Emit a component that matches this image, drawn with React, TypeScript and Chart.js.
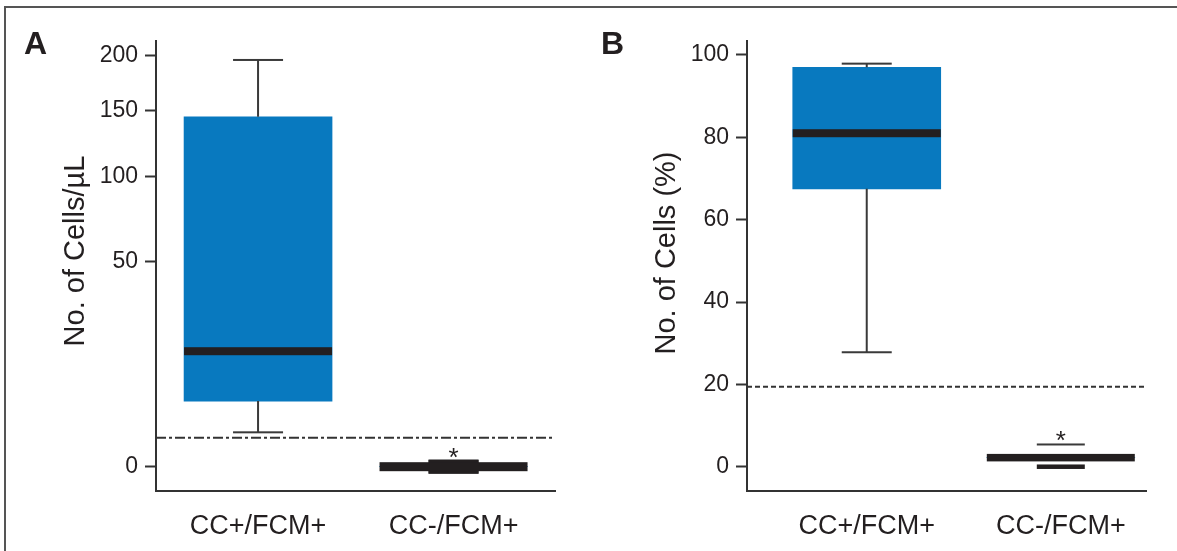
import React, { useEffect, useRef } from "react";
import { Chart, registerables, LinearScale } from "chart.js";

Chart.register(...registerables);

// ---------- data ----------
const categories = ["CC+/FCM+", "CC-/FCM+"];

// Panel A: No. of Cells/µL (square-root axis)
const aMin = [1.4, 0];
const aQ1 = [5.1, 0];
const aMedian = [15.8, 0];
const aQ3 = [145, 0];
const aMax = [196, 0];
const aTicks = [0, 50, 100, 150, 200];
const aThreshold = 1;

// Panel B: No. of Cells (%)
const bMin = [27.8, 0];
const bQ1 = [67.5, 2.2];
const bMedian = [81, 2.2];
const bQ3 = [97, 2.2];
const bMax = [97.9, 5.4];
const bTicks = [0, 20, 40, 60, 80, 100];
const bThreshold = 19.4;

const significant = [false, true];

// ---------- styles ----------
const FONT = "'Liberation Sans', Arial, Helvetica, sans-serif";
const BLUE = "#0879BF";
const TEXT = "#231F20";
const AXIS = "#333333";
const LINE = "#3a3a3a";

const ssqrt = (v: number) => Math.sign(v) * Math.sqrt(Math.abs(v));

class SqrtScale extends LinearScale {
  static id = "sqrt";
  static defaults = {};
  getPixelForValue(value: number) {
    const s = ssqrt(this.min as number);
    const e = ssqrt(this.max as number);
    return this.getPixelForDecimal((ssqrt(value) - s) / (e - s));
  }
  getValueForPixel(pixel: number) {
    const s = ssqrt(this.min as number);
    const e = ssqrt(this.max as number);
    const v = s + this.getDecimalForPixel(pixel) * (e - s);
    return Math.sign(v) * v * v;
  }
}
Chart.register(SqrtScale as any);

type Panel = {
  letter: string;
  title: string;
  scaleType: string;
  min: number[];
  q1: number[];
  median: number[];
  q3: number[];
  max: number[];
  ticks: number[];
  threshold: number;
  yMin: number;
  yMax: number;
  xMin: number;
  xMax: number;
  yAxisWidth: number;
  rightPad: number;
  dash: number[];
  boxWidth: number;
  medianThick: number[];
  capWidth: number[];
  lowerCapThick: number[];
  upperCapThick: number[];
  showWhisker: boolean[];
  letterX: number;
  titleX: number;
  titleY: number;
};

const panelA: Panel = {
  letter: "A",
  title: "No. of Cells/µL",
  scaleType: "sqrt",
  min: aMin,
  q1: aQ1,
  median: aMedian,
  q3: aQ3,
  max: aMax,
  ticks: aTicks,
  threshold: aThreshold,
  yMin: -0.7,
  yMax: 214.7,
  xMin: -0.522,
  xMax: 1.519,
  yAxisWidth: 156,
  rightPad: 35,
  dash: [10, 3, 3, 3],
  boxWidth: 148,
  medianThick: [8, 9],
  capWidth: [50, 50],
  lowerCapThick: [2, 14],
  upperCapThick: [2, 14],
  showWhisker: [true, false],
  letterX: 24,
  titleX: 76,
  titleY: 251,
};

const panelB: Panel = {
  letter: "B",
  title: "No. of Cells (%)",
  scaleType: "linear",
  min: bMin,
  q1: bQ1,
  median: bMedian,
  q3: bQ3,
  max: bMax,
  ticks: bTicks,
  threshold: bThreshold,
  yMin: -5.9,
  yMax: 103.4,
  xMin: -0.617,
  xMax: 1.439,
  yAxisWidth: 157,
  rightPad: 31,
  dash: [5, 3],
  boxWidth: 148,
  medianThick: [8, 7.5],
  capWidth: [50, 48],
  lowerCapThick: [2, 4.5],
  upperCapThick: [2, 2],
  showWhisker: [true, false],
  letterX: 11,
  titleX: 77,
  titleY: 253,
};

function boxPlugin(p: Panel) {
  return {
    id: "boxExtras" + p.letter,
    afterDatasetsDraw(chart: any) {
      const ctx = chart.ctx as CanvasRenderingContext2D;
      const y = chart.scales.y;
      const area = chart.chartArea;
      const meta = chart.getDatasetMeta(0);
      ctx.save();
      // threshold line
      const ty = y.getPixelForValue(p.threshold);
      ctx.strokeStyle = AXIS;
      ctx.lineWidth = 2;
      ctx.setLineDash(p.dash);
      ctx.beginPath();
      ctx.moveTo(area.left, ty);
      ctx.lineTo(area.right, ty);
      ctx.stroke();
      ctx.setLineDash([]);

      meta.data.forEach((bar: any, i: number) => {
        const { x: cx, width: w } = bar.getProps(["x", "width"], true);
        const yMinP = y.getPixelForValue(p.min[i]);
        const yMaxP = y.getPixelForValue(p.max[i]);
        const yQ1 = y.getPixelForValue(p.q1[i]);
        const yQ3 = y.getPixelForValue(p.q3[i]);
        const yMed = y.getPixelForValue(p.median[i]);
        // whiskers
        if (p.showWhisker[i]) {
          ctx.strokeStyle = LINE;
          ctx.lineWidth = 2;
          ctx.beginPath();
          ctx.moveTo(cx, yQ3);
          ctx.lineTo(cx, yMaxP);
          ctx.moveTo(cx, yQ1);
          ctx.lineTo(cx, yMinP);
          ctx.stroke();
        }
        // caps
        ctx.fillStyle = LINE;
        const cw = p.capWidth[i];
        ctx.fillRect(cx - cw / 2, yMaxP - p.upperCapThick[i] / 2, cw, p.upperCapThick[i]);
        ctx.fillStyle = i === 1 ? TEXT : LINE;
        ctx.fillRect(cx - cw / 2, yMinP - p.lowerCapThick[i] / 2, cw, p.lowerCapThick[i]);
        // median
        ctx.fillStyle = TEXT;
        ctx.fillRect(cx - w / 2, yMed - p.medianThick[i] / 2, w, p.medianThick[i]);
        // significance
        if (significant[i]) {
          ctx.fillStyle = TEXT;
          ctx.font = `26px ${FONT}`;
          ctx.textAlign = "center";
          ctx.textBaseline = "alphabetic";
          ctx.fillText("*", cx, yMaxP - p.upperCapThick[i] / 2 + 6);
        }
      });
      ctx.restore();
    },
    afterDraw(chart: any) {
      const ctx = chart.ctx as CanvasRenderingContext2D;
      ctx.save();
      ctx.fillStyle = TEXT;
      ctx.font = `bold 32px ${FONT}`;
      ctx.textAlign = "left";
      ctx.textBaseline = "alphabetic";
      ctx.fillText(p.letter, p.letterX, 54);
      ctx.translate(p.titleX, p.titleY);
      ctx.rotate(-Math.PI / 2);
      ctx.font = `29px ${FONT}`;
      ctx.textAlign = "center";
      ctx.textBaseline = "middle";
      ctx.fillText(p.title, 0, 0);
      ctx.restore();
    },
  };
}

function makeConfig(p: Panel): any {
  return {
    type: "bar",
    data: {
      datasets: [
        {
          data: categories.map((_, i) => ({ x: i, y: [p.q1[i], p.q3[i]] })),
          backgroundColor: BLUE,
          borderWidth: 0,
          barThickness: p.boxWidth,
        },
      ],
    },
    options: {
      animation: false,
      responsive: false,
      maintainAspectRatio: false,
      layout: { padding: { left: 0, right: p.rightPad, top: 41, bottom: 0 } },
      plugins: { legend: { display: false }, tooltip: { enabled: false } },
      scales: {
        x: {
          type: "linear",
          min: p.xMin,
          max: p.xMax,
          offset: false,
          grid: { display: false, offset: false },
          border: { display: true, color: AXIS, width: 2 },
          afterBuildTicks: (s: any) => {
            s.ticks = categories.map((_, i) => ({ value: i }));
          },
          ticks: {
            autoSkip: false,
            maxRotation: 0,
            minRotation: 0,
            padding: 11,
            color: TEXT,
            font: { size: 27, family: FONT },
            callback: (v: any) => categories[Math.round(Number(v))] ?? "",
          },
          afterFit: (s: any) => {
            s.height = 60;
          },
        },
        y: {
          type: p.scaleType,
          min: p.yMin,
          max: p.yMax,
          grid: {
            display: true,
            drawOnChartArea: false,
            drawTicks: true,
            tickLength: 11,
            tickWidth: 2,
            tickColor: AXIS,
          },
          border: { display: true, color: AXIS, width: 2 },
          afterBuildTicks: (s: any) => {
            s.ticks = p.ticks.map((v) => ({ value: v }));
          },
          ticks: {
            padding: 7,
            color: TEXT,
            font: { size: 23, family: FONT },
            callback: (v: any) => String(v),
          },
          afterFit: (s: any) => {
            s.width = p.yAxisWidth;
          },
        },
      },
    },
    plugins: [boxPlugin(p)],
  };
}

function PanelChart({ panel, width }: { panel: Panel; width: number }) {
  const ref = useRef<HTMLCanvasElement | null>(null);
  useEffect(() => {
    if (!ref.current) return;
    const chart = new Chart(ref.current, makeConfig(panel));
    return () => chart.destroy();
  }, [panel]);
  return <canvas ref={ref} width={width} height={551} style={{ display: "block", width, height: 551 }} />;
}

export default function App() {
  return (
    <div
      style={{
        position: "fixed",
        left: 0,
        top: 0,
        width: 1177,
        height: 551,
        background: "#ffffff",
        overflow: "hidden",
      }}
    >
      <div style={{ position: "absolute", left: 0, top: 0 }}>
        <PanelChart panel={panelA} width={590} />
      </div>
      <div style={{ position: "absolute", left: 590, top: 0 }}>
        <PanelChart panel={panelB} width={587} />
      </div>
      <div
        style={{
          position: "absolute",
          left: 4,
          top: 6,
          width: 1190,
          height: 560,
          borderTop: "2px solid #555555",
          borderLeft: "2px solid #555555",
          pointerEvents: "none",
        }}
      />
    </div>
  );
}
